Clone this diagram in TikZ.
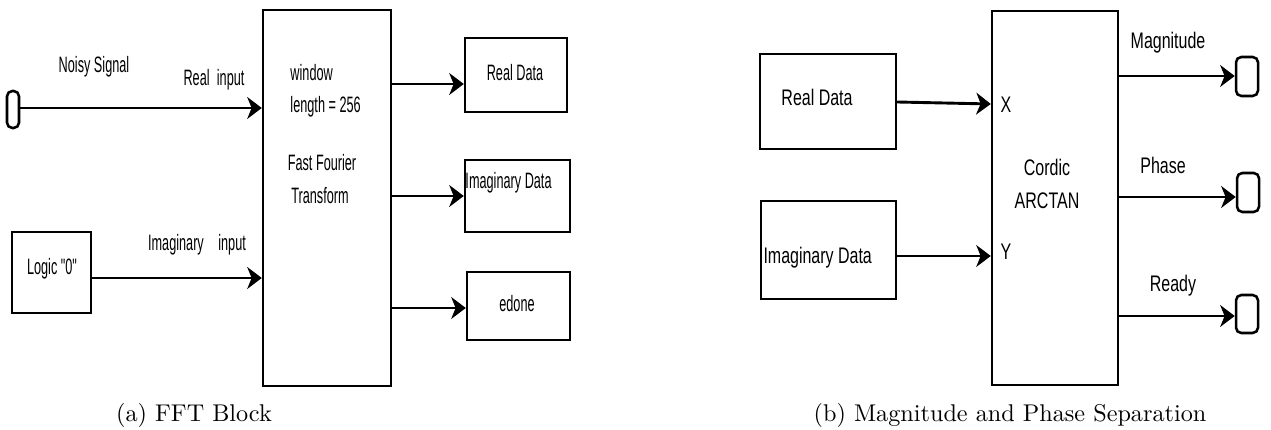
\documentclass[tikz,border=0pt]{standalone}
\usepackage{fontspec}
\newfontfamily\lfont{Liberation Sans}[FakeStretch=0.57]
\newfontfamily\rfont{Liberation Sans}[FakeStretch=0.71]
\usetikzlibrary{arrows.meta}
\begin{document}
\begin{tikzpicture}[x=0.413pt,y=-0.413pt,
  wh/.style 2 args={minimum width=#1*0.413pt, minimum height=#2*0.413pt},
  box/.style={draw, line width=1pt, inner sep=0pt},
  term/.style={draw, line width=1.05pt, rounded corners=2.2pt, inner sep=0pt},
  arr/.style={line width=1.2pt, -{Stealth[length=6pt,width=9pt,inset=1.8pt]}},
  ltxt/.style={inner sep=0pt, font=\lfont\fontsize{9.2}{11}\selectfont},
  rtxt/.style={inner sep=0pt, font=\rfont\fontsize{9.3}{11}\selectfont},
  captxt/.style={inner sep=0pt, font=\fontsize{10}{12}\selectfont}]
\useasboundingbox (0,0) rectangle (1271,430);

% ---------- (a) FFT block ----------
\node[box, wh={128}{376}] (fft) at (327,198) {};
\node[term, wh={12}{37}] (t1) at (13,109.5) {};
\node[box, wh={79}{81}] (logic) at (51.5,272.5) {};
\node[box, wh={102}{74}] (rdl) at (516,75) {};
\node[box, wh={105}{72}] (idl) at (517.5,196) {};
\node[box, wh={103}{68}] (edl) at (518.5,306) {};

\draw[arr] (t1.east |- 0,108) -- (fft.west |- 0,108);
\draw[arr] (logic.east |- 0,278) -- (fft.west |- 0,278);
\draw[arr] (fft.east |- 0,84) -- (rdl.west |- 0,84);
\draw[arr] (fft.east |- 0,196) -- (idl.west |- 0,196);
\draw[arr] (fft.east |- 0,308) -- (edl.west |- 0,308);

\node[ltxt] (noisy) at (94,67) {Noisy Signal};
\node[ltxt] (realin) at (214,80) {Real\hspace{3pt}input};
\node[ltxt] (imagin) at (197,245) {Imaginary\hspace{6pt}input};
\node[ltxt] (logict) at (52,269) {Logic "0"};
\node[ltxt, anchor=west] (win) at (290,73) {window};
\node[ltxt, anchor=west] (len) at (290,107) {length = 256};
\node[ltxt] (fast) at (322,163) {Fast Fourier};
\node[ltxt] (trans) at (320,196) {Transform};
\node[ltxt] (rdlt) at (515,73) {Real Data};
\node[ltxt, anchor=west] (idlt) at (465,183) {Imaginary Data};
\node[ltxt] (edlt) at (517,304) {edone};
\node[captxt] (capa) at (194,415) {(a) FFT Block};

% ---------- (b) Magnitude and phase ----------
\node[box, wh={136}{95}] (rdr) at (828,101.5) {};
\node[box, wh={135}{98}] (idr) at (828.5,250) {};
\node[box, wh={126}{374}] (cord) at (1055,198) {};
\node[term, wh={22}{39}] (o1) at (1247,76.5) {};
\node[term, wh={22}{39}] (o2) at (1248,192.5) {};
\node[term, wh={22}{38}] (o3) at (1247,314) {};

\draw[arr] (rdr.east |- 0,102) -- (cord.west |- 0,104);
\draw[arr] (idr.east |- 0,256) -- (cord.west |- 0,256);
\draw[arr] (cord.east |- 0,76) -- (o1.west |- 0,76);
\draw[arr] (cord.east |- 0,197) -- (o2.west |- 0,197);
\draw[arr] (cord.east |- 0,316) -- (o3.west |- 0,316);

\node[rtxt] (rdrt) at (817,97) {Real Data};
\node[rtxt, anchor=west] (idrt) at (763,258) {Imaginary Data};
\node[rtxt] (xl) at (1006,105) {X};
\node[rtxt] (yl) at (1006,252) {Y};
\node[rtxt] (cordt) at (1047,167) {Cordic};
\node[rtxt] (arct) at (1047,201) {ARCTAN};
\node[rtxt] (magt) at (1168,43) {Magnitude};
\node[rtxt] (phat) at (1163,165) {Phase};
\node[rtxt] (reat) at (1173,286) {Ready};
\node[captxt] (capb) at (1010,415) {(b) Magnitude and Phase Separation};
\end{tikzpicture}
\end{document}
